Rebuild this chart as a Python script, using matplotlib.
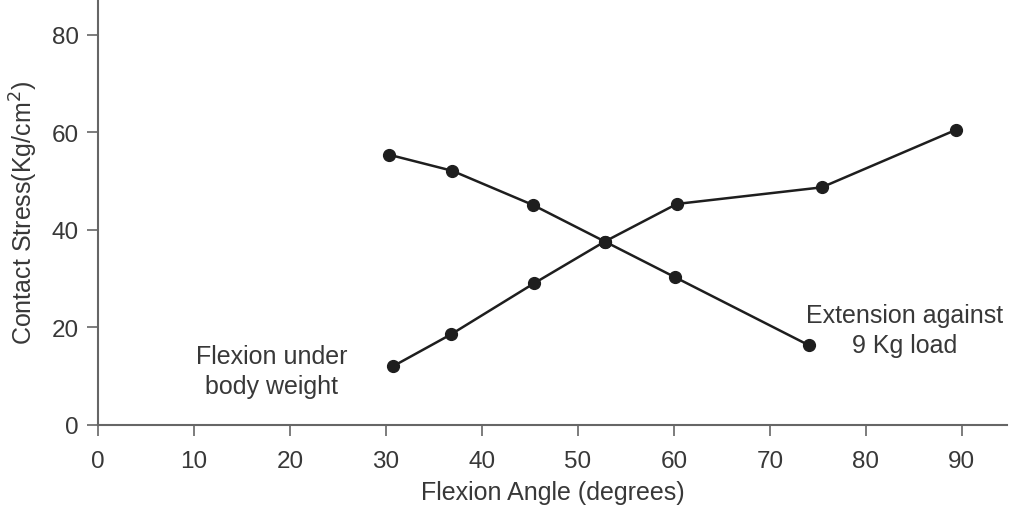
import matplotlib
matplotlib.use("Agg")
import matplotlib.pyplot as plt

plt.rcParams['font.family'] = ['Liberation Sans', 'DejaVu Sans']

# Flexion under body weight (rising series)
flexion_angle = [30.7, 36.8, 45.4, 52.8, 60.3, 75.4, 89.4]
flexion_stress = [12.0, 18.6, 29.0, 37.6, 45.3, 48.7, 60.5]

# Extension against 9 Kg load (falling series)
extension_angle = [30.3, 36.9, 45.3, 52.8, 60.1, 74.1]
extension_stress = [55.4, 52.1, 45.1, 37.6, 30.3, 16.3]

x_ticks = [0, 10, 20, 30, 40, 50, 60, 70, 80, 90]
y_ticks = [0, 20, 40, 60, 80]

fig = plt.figure(figsize=(10.09, 5.06), dpi=100)
ax = fig.add_axes([98/1009, 80/506, (1007-98)/1009, 426/506])

line_color = '#1e1e1e'
ax.plot(flexion_angle, flexion_stress, '-o', color=line_color, lw=1.8, ms=8.5)
ax.plot(extension_angle, extension_stress, '-o', color=line_color, lw=1.8, ms=8.5)

ax.set_xlim(0, 94.7)
ax.set_ylim(0, 87.3)
ax.set_xticks(x_ticks)
ax.set_yticks(y_ticks)

axis_color = '#666666'
text_color = '#383838'
for s in ['top', 'right']:
    ax.spines[s].set_visible(False)
for s in ['left', 'bottom']:
    ax.spines[s].set_color(axis_color)
    ax.spines[s].set_linewidth(1.5)
ax.tick_params(axis='both', colors=axis_color, labelcolor=text_color,
               length=8, width=1.2, labelsize=17.5, direction='out')
ax.tick_params(axis='x', pad=10)
ax.tick_params(axis='y', pad=6)

ax.set_xlabel('Flexion Angle (degrees)', fontsize=18, color=text_color, labelpad=6)
ax.set_ylabel('Contact Stress(Kg/cm$^2$)', fontsize=18, color=text_color, labelpad=8)

ax.text(18.1, 11.0, 'Flexion under\nbody weight', fontsize=18, color=text_color,
        ha='center', va='center', linespacing=1.3)
ax.text(84.0, 19.4, 'Extension against\n9 Kg load', fontsize=18, color=text_color,
        ha='center', va='center', linespacing=1.3)

fig.savefig('out.png', dpi=100)
